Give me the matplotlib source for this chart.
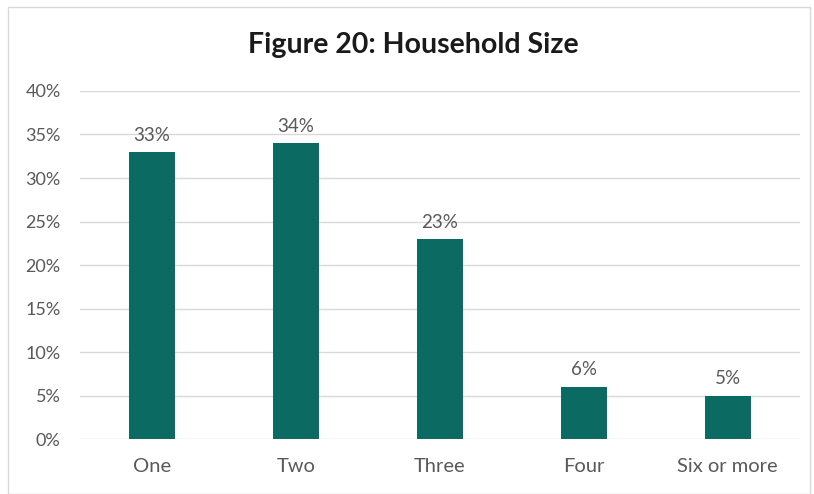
import matplotlib.pyplot as plt
from matplotlib.patches import Rectangle

categories = ['One', 'Two', 'Three', 'Four', 'Six or more']
values = [33, 34, 23, 6, 5]
value_labels = ['33%', '34%', '23%', '6%', '5%']
yticks = [0, 5, 10, 15, 20, 25, 30, 35, 40]

bar_color = '#0b6b62'
text_color = '#595959'
plt.rcParams['font.family'] = ['Lato', 'DejaVu Sans']

fig = plt.figure(figsize=(8.14, 4.94), dpi=100)
ax = fig.add_axes([0.0983, 0.1113, 0.884, 0.7045])

# chart border
fig.patches.append(Rectangle((0.010, 0.0), 0.985, 0.986, transform=fig.transFigure,
                             fill=False, edgecolor='#d9d9d9', linewidth=1))

x = range(len(categories))
ax.bar(x, values, width=0.32, color=bar_color, zorder=3)
for i, v in enumerate(values):
    ax.annotate(value_labels[i], (i, v), xytext=(0, 6), textcoords='offset points',
                ha='center', va='bottom', fontsize=13.5, color=text_color)

ax.set_xlim(-0.5, len(categories) - 0.5)
ax.set_ylim(0, 40)
ax.set_yticks(yticks)
ax.set_yticklabels([f'{t}%' for t in yticks])
ax.set_xticks(list(x))
ax.set_xticklabels(categories)
ax.tick_params(axis='both', length=0, labelcolor=text_color)
ax.tick_params(axis='y', pad=14, labelsize=13)
ax.tick_params(axis='x', pad=14, labelsize=14.5)
ax.yaxis.grid(True, color='#d9d9d9', linewidth=1, zorder=0)
for s in ax.spines.values():
    s.set_visible(False)

fig.text(0.508, 0.909, 'Figure 20: Household Size', fontsize=20.5, fontweight='bold',
         color='#1a1a1a', ha='center', va='center')

fig.savefig('out.png', dpi=100)
